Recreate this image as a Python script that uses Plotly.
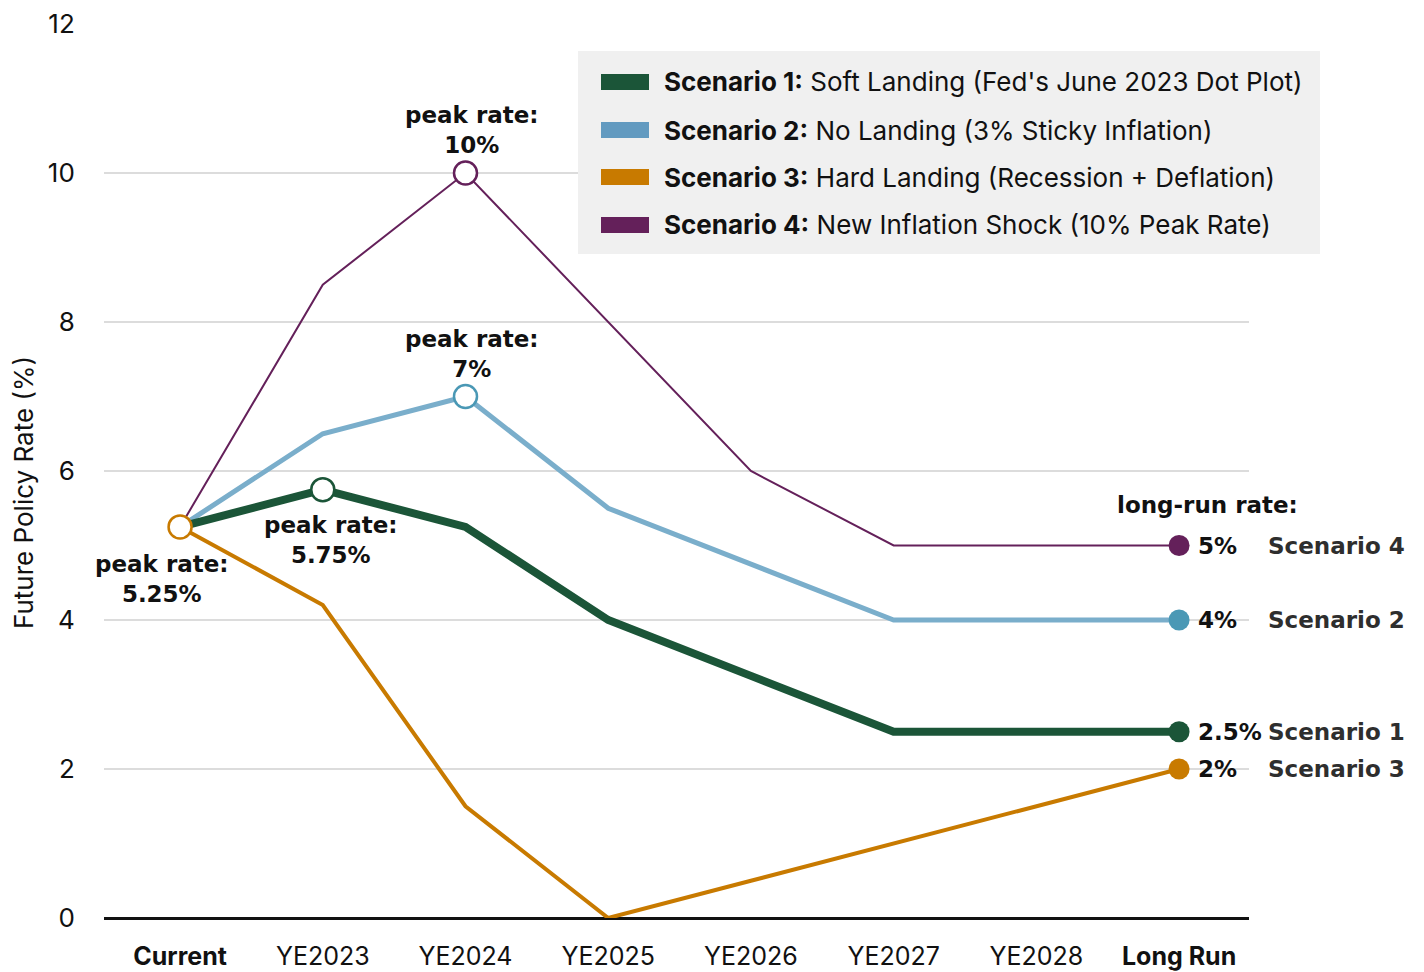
import plotly.graph_objects as go

categories = ["Current", "YE2023", "YE2024", "YE2025", "YE2026", "YE2027", "YE2028", "Long Run"]
tick_text = ["<b>Current</b>", "YE2023", "YE2024", "YE2025", "YE2026", "YE2027", "YE2028", "<b>Long Run</b>"]

s1 = [5.25, 5.75, 5.25, 4.0, 3.25, 2.5, 2.5, 2.5]
s2 = [5.25, 6.5, 7.0, 5.5, 4.75, 4.0, 4.0, 4.0]
s3 = [5.25, 4.2, 1.5, 0.0, 0.5, 1.0, 1.5, 2.0]
s4 = [5.25, 8.5, 10.0, 8.0, 6.0, 5.0, 5.0, 5.0]

names_bold = ["Scenario 1:", "Scenario 2:", "Scenario 3:", "Scenario 4:"]
names_rest = ["Soft Landing (Fed's June 2023 Dot Plot)", "No Landing (3% Sticky Inflation)",
              "Hard Landing (Recession + Deflation)", "New Inflation Shock (10% Peak Rate)"]
long_run_labels = ["2.5%", "4%", "2%", "5%"]
short_names = ["Scenario 1", "Scenario 2", "Scenario 3", "Scenario 4"]

c_green = "#1b5538"
c_blue = "#7aaecb"
c_blue_leg = "#629ac0"
c_blue_dot = "#4a98b5"
c_orange = "#c87a00"
c_purple = "#64205a"

FONT = "Inter"
BOLD_FONT = "DejaVu Sans"
OFF = 8  # page body margin
W, H = 1424 - OFF, 972 - OFF
L, R, T, B = 104 - OFF, 1249 - OFF, 24 - OFF, 918 - OFF

def px(x):
    return (x - OFF - L) / (R - L)

def py(y):
    return (B - (y - OFF)) / (B - T)

fig = go.Figure()
series = [(s4, c_purple, 2), (s2, c_blue, 5), (s3, c_orange, 4), (s1, c_green, 8)]
for vals, col, w in series:
    fig.add_trace(go.Scatter(x=categories, y=vals, mode="lines",
                             line=dict(color=col, width=w), showlegend=False, hoverinfo="skip"))

# open peak markers
peaks = [("Current", s3[0], c_orange), ("YE2023", s1[1], c_green),
         ("YE2024", s2[2], c_blue_dot), ("YE2024", s4[2], c_purple)]
for cx, cy, col in peaks:
    fig.add_trace(go.Scatter(x=[cx], y=[cy], mode="markers",
                             marker=dict(size=23, color="white", line=dict(color=col, width=2.5)),
                             showlegend=False, hoverinfo="skip"))

# long-run dots
lr_series = [(s1, c_green), (s2, c_blue_dot), (s3, c_orange), (s4, c_purple)]
for vals, col in lr_series:
    fig.add_trace(go.Scatter(x=[categories[-1]], y=[vals[-1]], mode="markers",
                             marker=dict(size=21, color=col), showlegend=False, hoverinfo="skip"))

bfont = dict(family=BOLD_FONT, size=23, color="#111")
ann = []
ann.append(dict(x="YE2024", y=s4[2], text="<b>peak rate:<br>10%</b>", xshift=6, yshift=13,
                yanchor="bottom", showarrow=False, font=bfont))
ann.append(dict(x="YE2024", y=s2[2], text="<b>peak rate:<br>7%</b>", xshift=6, yshift=13,
                yanchor="bottom", showarrow=False, font=bfont))
ann.append(dict(x="YE2023", y=s1[1], text="<b>peak rate:<br>5.75%</b>", xshift=8, yshift=-20,
                yanchor="top", showarrow=False, font=bfont))
ann.append(dict(x="Current", y=s3[0], text="<b>peak rate:<br>5.25%</b>", xshift=-18, yshift=-22,
                yanchor="top", showarrow=False, font=bfont))
ann.append(dict(x="Long Run", y=s4[-1], text="<b>long-run rate:</b>", xshift=28, yshift=41,
                xanchor="center", showarrow=False, font=bfont))
for vals, lab, nm in zip([s1, s2, s3, s4], long_run_labels, short_names):
    ann.append(dict(x="Long Run", y=vals[-1], text="<b>" + lab + "</b>", xshift=17, xanchor="left",
                    showarrow=False, font=bfont))
    ann.append(dict(x="Long Run", y=vals[-1], text="<b>" + nm + "</b>", xshift=87, xanchor="left",
                    showarrow=False, font=dict(family=BOLD_FONT, size=23, color="#2e2e2e")))

# y-axis title
ann.append(dict(xref="paper", yref="paper", x=px(24), y=py(493), text="Future Policy Rate (%)",
                textangle=-90, showarrow=False, xanchor="center", yanchor="middle",
                font=dict(size=26, color="#111")))

# custom legend
shapes = [dict(type="rect", xref="paper", yref="paper", x0=px(578), x1=px(1320), y0=py(254), y1=py(51),
               fillcolor="#f0f0f0", line=dict(width=0), layer="above")]
leg_cols = [c_green, c_blue_leg, c_orange, c_purple]
row_y = [82, 130, 177, 225]
for i in range(4):
    shapes.append(dict(type="rect", xref="paper", yref="paper", x0=px(601), x1=px(649),
                       y0=py(row_y[i] + 8), y1=py(row_y[i] - 8), fillcolor=leg_cols[i],
                       line=dict(width=0), layer="above"))
    ann.append(dict(xref="paper", yref="paper", x=px(662), y=py(row_y[i]), xanchor="left",
                    yanchor="middle", showarrow=False,
                    text="<b>" + names_bold[i] + "</b> " + names_rest[i],
                    font=dict(size=26, color="#111")))

fig.update_layout(
    width=W, height=H,
    margin=dict(l=L, r=W - R, t=T, b=H - B, autoexpand=False),
    plot_bgcolor="white", paper_bgcolor="white",
    font=dict(family=FONT, size=24, color="#111"),
    annotations=ann, shapes=shapes, showlegend=False,
    xaxis=dict(type="category", range=[-0.533, 7.49], tickmode="array", tickvals=categories,
               ticktext=tick_text, showgrid=False, zeroline=False, showline=False,
               ticks="outside", ticklen=16, tickcolor="rgba(0,0,0,0)",
               tickfont=dict(size=25, color="#111"), automargin=False),
    yaxis=dict(range=[0, 12], tickvals=[0, 2, 4, 6, 8, 10, 12], showgrid=True,
               gridcolor="#dcdcdc", gridwidth=1.5, zeroline=True, zerolinecolor="#111",
               zerolinewidth=2.5, showline=False, ticks="outside", ticklen=23,
               tickcolor="rgba(0,0,0,0)", tickfont=dict(size=26, color="#111"), automargin=False),
)

fig.write_html("out.html")
